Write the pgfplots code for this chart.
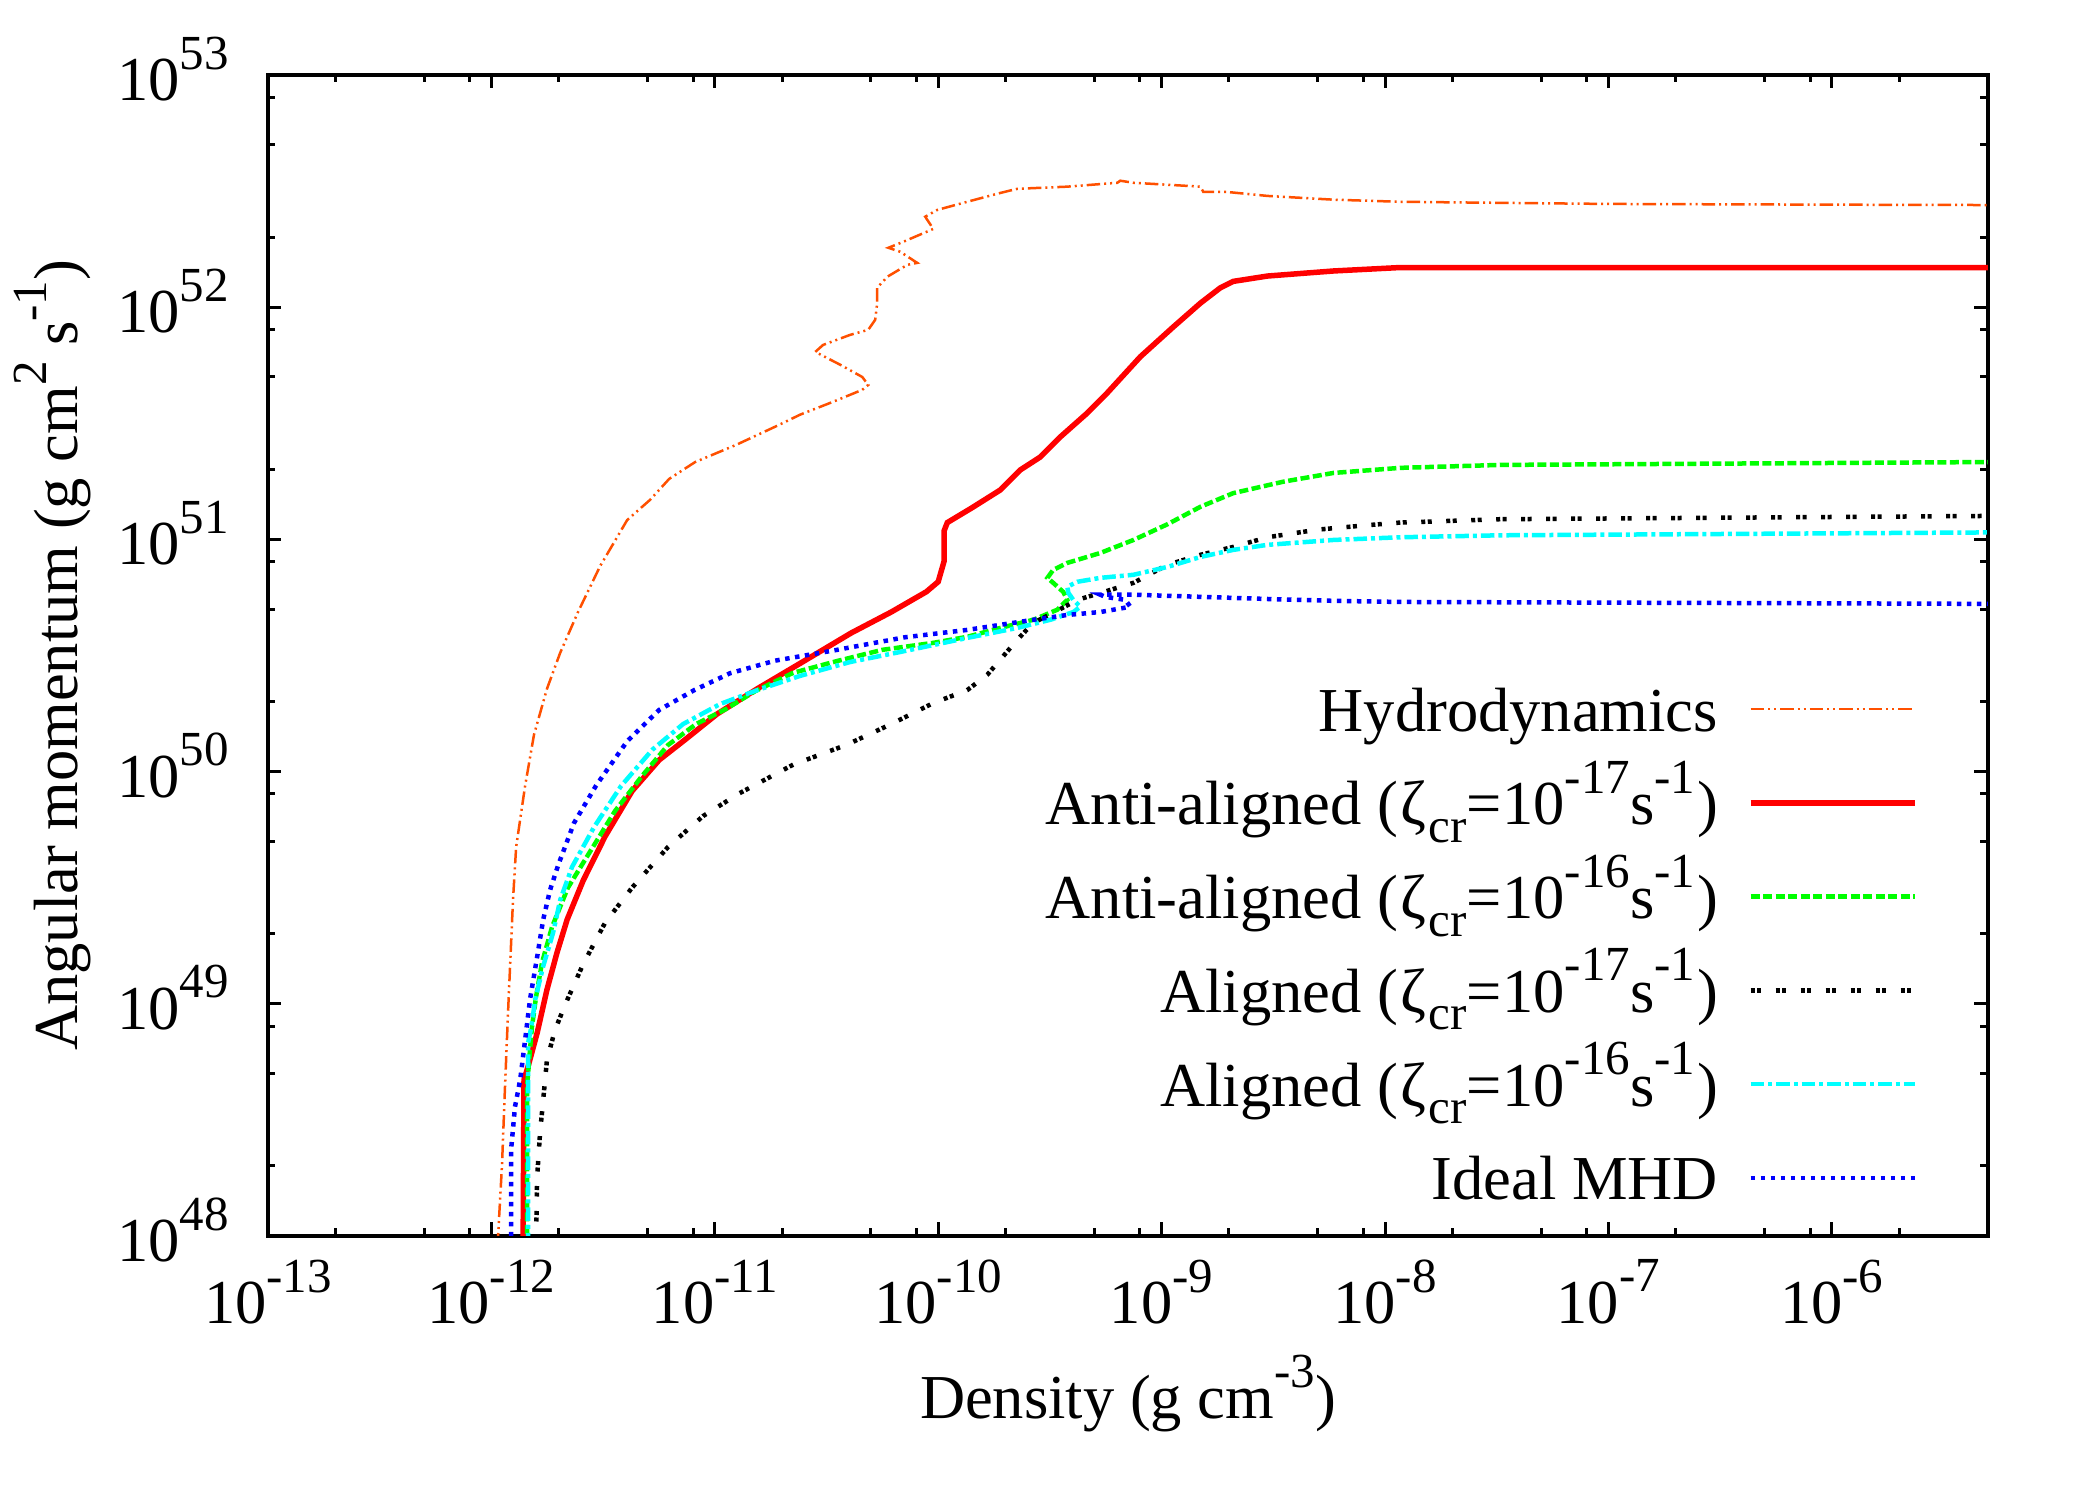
\documentclass[border=0pt]{standalone}
\usepackage{fontspec}
\setmainfont{Liberation Serif}
\usepackage{pgfplots}
\pgfplotsset{compat=1.18}

\newcommand{\fsz}{\fontsize{12.5}{15}\selectfont}
\newcommand{\sps}[1]{\raisebox{6.3pt}{\fontsize{9.8}{10}\selectfont #1}}
\newcommand{\sbs}[1]{\raisebox{-3.5pt}{\fontsize{9.8}{10}\selectfont #1}}
\newcommand{\pw}[1]{\mbox{10\sps{#1}}}
\newcommand{\zcr}[1]{(\kern0.4ptζ\kern0.6pt\sbs{cr}=10\sps{#1}s\sps{-1}\kern0.4pt)}

\definecolor{hydro}{RGB}{255,80,0}
\definecolor{cgreen}{RGB}{0,255,0}
\definecolor{ccyan}{RGB}{0,255,255}
\definecolor{cblue}{RGB}{0,0,255}

\begin{document}
\begin{tikzpicture}
\path[use as bounding box] (-53.6pt,-52.8pt) rectangle (366.4pt,247.2pt);
\begin{axis}[
  at={(0pt,0pt)}, anchor=south west,
  scale only axis, width=344pt, height=232.2pt,
  xmode=log, ymode=log,
  xmin=1e-13, xmax=5e-6, ymin=1e48, ymax=1e53,
  xtick={1e-13,1e-12,1e-11,1e-10,1e-9,1e-8,1e-7,1e-6},
  xticklabels={\pw{-13},\pw{-12},\pw{-11},\pw{-10},\pw{-9},\pw{-8},\pw{-7},\pw{-6}},
  minor xtick={2e-13,5e-13,8e-13,2e-12,5e-12,8e-12,2e-11,5e-11,8e-11,2e-10,5e-10,8e-10,
               2e-9,5e-9,8e-9,2e-8,5e-8,8e-8,2e-7,5e-7,8e-7,2e-6},
  ytick={1e48,1e49,1e50,1e51,1e52,1e53},
  yticklabels={\pw{48},\pw{49},\pw{50},\pw{51},\pw{52},\pw{53}},
  minor ytick={2e48,5e48,8e48,2e49,5e49,8e49,2e50,5e50,8e50,2e51,5e51,8e51,2e52,5e52,8e52},
  tick align=inside,
  major tick length=2.7pt, minor tick length=1.5pt,
  tick style={black, line width=0.6pt},
  axis line style={line width=0.7pt},
  tick label style={font=\fsz},
  xticklabel style={anchor=north, inner sep=0pt, yshift=-4.6pt},
  yticklabel style={anchor=east, inner sep=0pt, xshift=-7.6pt, yshift=1.2pt},
  label style={font=\fsz},
  xlabel={Density (g cm\sps{-3})},
  ylabel={Angular momentum (g cm\sps{2} s\sps{-1})},
  xlabel style={at={([yshift=-36.6pt]axis description cs:0.5,0)}, anchor=base, inner sep=0pt},
  ylabel style={at={([xshift=-38pt]axis description cs:0,0.5)}, anchor=base, inner sep=0pt},
  legend style={at={(1,0)}, anchor=south east, xshift=-13.9pt, yshift=2pt,
    draw=none, fill=none, inner sep=0pt, row sep=0pt, column sep=6.0pt, font=\fsz,
    nodes={inner sep=0pt, text height=13.75pt, text depth=5pt}},
  legend cell align=right,
  legend plot pos=right,
  legend image code/.code={\draw[#1] (0pt,0pt) -- (32.8pt,0pt);},
]

% Hydrodynamics
\addplot[hydro, line width=0.5pt, dash pattern=on 2.7pt off 0.8pt on 0.4pt off 0.8pt on 0.4pt off 0.8pt]
coordinates {
(1.072e-12,9e47) (1.072e-12,1.00e48) (1.117e-12,2.06e48) (1.151e-12,4.39e48) (1.189e-12,9.40e48)
(1.250e-12,2.80e49) (1.291e-12,4.73e49) (1.416e-12,8.67e49) (1.552e-12,1.44e50) (1.774e-12,2.27e50)
(2.032e-12,3.24e50) (2.443e-12,4.86e50) (3.069e-12,7.67e50) (4.055e-12,1.21e51) (5.140e-12,1.48e51)
(6.252e-12,1.82e51) (8.166e-12,2.15e51) (1.247e-11,2.55e51) (1.901e-11,3.08e51) (2.410e-11,3.44e51)
(3.388e-11,3.91e51) (4.571e-11,4.40e51) (4.864e-11,4.62e51) (4.571e-11,5.00e51) (3.648e-11,5.64e51)
(2.818e-11,6.41e51) (3.055e-11,6.87e51) (4.036e-11,7.59e51) (4.864e-11,7.98e51) (5.224e-11,8.81e51)
(5.333e-11,1.04e52) (5.333e-11,1.21e52) (5.916e-11,1.35e52) (7.278e-11,1.52e52) (8.054e-11,1.55e52)
(6.761e-11,1.73e52) (5.984e-11,1.80e52) (6.982e-11,1.91e52) (9.506e-11,2.17e52) (8.750e-11,2.45e52)
(9.908e-11,2.62e52) (1.349e-10,2.84e52) (1.897e-10,3.10e52) (2.259e-10,3.23e52) (3.784e-10,3.30e52)
(6.339e-10,3.43e52) (6.531e-10,3.50e52) (7.482e-10,3.43e52) (1.493e-9,3.30e52) (1.538e-9,3.13e52)
(1.972e-9,3.13e52) (2.979e-9,3.01e52) (5.875e-9,2.90e52) (1.172e-8,2.84e52) (3.289e-8,2.81e52)
(1e-7,2.78e52) (1e-6,2.76e52) (5.0e-6,2.75e52)
};
\addlegendentry{Hydrodynamics}

% Anti-aligned, zeta = 1e-17
\addplot[red, line width=1.1pt]
coordinates {
(1.387e-12,9e47) (1.400e-12,4.70e48) (1.459e-12,5.35e48) (1.603e-12,7.48e48) (1.774e-12,1.15e49)
(1.968e-12,1.66e49) (2.183e-12,2.30e49) (2.576e-12,3.39e49) (3.228e-12,5.25e49) (4.266e-12,8.24e49)
(5.636e-12,1.12e50) (7.362e-12,1.37e50) (1.026e-11,1.77e50) (1.549e-11,2.27e50) (2.438e-11,2.94e50)
(4.083e-11,3.95e50) (6.166e-11,4.86e50) (8.851e-11,5.94e50) (1.000e-10,6.56e50) (1.064e-10,8.07e50)
(1.064e-10,1.09e51) (1.099e-10,1.18e51) (1.406e-10,1.36e51) (1.897e-10,1.63e51) (2.333e-10,1.99e51)
(2.864e-10,2.26e51) (3.524e-10,2.76e51) (4.656e-10,3.50e51) (5.715e-10,4.27e51) (8.035e-10,6.11e51)
(1.130e-9,8.22e51) (1.493e-9,1.04e52) (1.832e-9,1.21e52) (2.094e-9,1.29e52) (2.979e-9,1.36e52)
(5.875e-9,1.43e52) (1.172e-8,1.48e52) (5.0e-6,1.48e52)
};
\addlegendentry{Anti-aligned \zcr{-17}}

% Anti-aligned, zeta = 1e-16
\addplot[cgreen, line width=0.9pt, dash pattern=on 1.8pt off 0.7pt]
coordinates {
(1.445e-12,9e47) (1.445e-12,4.39e48) (1.489e-12,6.32e48) (1.520e-12,7.94e48) (1.585e-12,1.07e49)
(1.685e-12,1.50e49) (1.869e-12,2.14e49) (2.202e-12,3.16e49) (2.849e-12,4.73e49) (3.579e-12,6.76e49)
(4.729e-12,9.57e49) (6.177e-12,1.30e50) (8.250e-12,1.60e50) (1.125e-11,1.86e50) (1.520e-11,2.22e50)
(2.244e-11,2.66e50) (3.532e-11,2.99e50) (5.623e-11,3.34e50) (9.506e-11,3.58e50) (1.349e-10,3.80e50)
(1.897e-10,4.15e50) (2.667e-10,4.50e50) (3.412e-10,4.97e50) (3.784e-10,5.48e50) (3.631e-10,5.93e50)
(3.273e-10,6.49e50) (3.083e-10,6.82e50) (3.273e-10,7.38e50) (3.784e-10,7.91e50) (5.321e-10,8.73e50)
(7.482e-10,9.93e50) (1.062e-9,1.16e51) (1.493e-9,1.38e51) (2.094e-9,1.58e51) (3.508e-9,1.77e51)
(5.875e-9,1.93e51) (1.172e-8,2.03e51) (3.289e-8,2.09e51) (5.0e-6,2.15e51)
};
\addlegendentry{Anti-aligned \zcr{-16}}

% Aligned, zeta = 1e-17
\addplot[black, line width=0.9pt, dash pattern=on 0.8pt off 0.5pt on 0.8pt off 2.9pt]
coordinates {
(1.585e-12,9e47) (1.603e-12,1.79e48) (1.652e-12,2.78e48) (1.706e-12,3.85e48) (1.774e-12,5.73e48)
(1.928e-12,7.71e48) (2.138e-12,9.89e48) (2.576e-12,1.48e49) (3.228e-12,2.23e49) (4.266e-12,3.16e49)
(6.180e-12,4.73e49) (8.872e-12,6.43e49) (1.285e-11,8.04e49) (2.244e-11,1.07e50) (3.873e-11,1.30e50)
(6.166e-11,1.60e50) (9.506e-11,1.97e50) (1.349e-10,2.24e50) (1.660e-10,2.61e50) (1.897e-10,3.03e50)
(2.259e-10,3.69e50) (2.667e-10,4.37e50) (3.273e-10,4.82e50) (4.198e-10,5.48e50) (5.321e-10,5.87e50)
(7.482e-10,6.49e50) (1.062e-9,7.76e50) (1.493e-9,8.57e50) (2.094e-9,9.27e50) (2.979e-9,1.02e51)
(4.989e-9,1.10e51) (8.356e-9,1.15e51) (1.172e-8,1.18e51) (3.289e-8,1.22e51) (5.0e-6,1.26e51)
};
\addlegendentry{Aligned \zcr{-17}}

% Aligned, zeta = 1e-16
\addplot[ccyan, line width=0.9pt, dash pattern=on 2.7pt off 0.8pt on 0.8pt off 0.8pt]
coordinates {
(1.460e-12,9e47) (1.460e-12,6.78e48) (1.510e-12,7.94e48) (1.571e-12,1.04e49) (1.703e-12,1.44e49)
(1.889e-12,2.02e49) (2.034e-12,2.80e49) (2.297e-12,3.88e49) (2.885e-12,5.77e49) (3.812e-12,8.67e49)
(5.251e-12,1.24e50) (7.215e-12,1.60e50) (1.055e-11,1.95e50) (1.549e-11,2.24e50) (2.410e-11,2.58e50)
(4.036e-11,2.96e50) (6.761e-11,3.27e50) (1.349e-10,3.76e50) (2.259e-10,4.15e50) (3.177e-10,4.50e50)
(4.027e-10,4.86e50) (4.325e-10,5.12e50) (4.027e-10,5.48e50) (3.828e-10,5.87e50) (3.784e-10,6.24e50)
(4.198e-10,6.56e50) (5.321e-10,6.82e50) (7.482e-10,7.03e50) (1.062e-9,7.60e50) (1.493e-9,8.39e50)
(2.094e-9,9.00e50) (2.979e-9,9.46e50) (5.875e-9,9.93e50) (1.172e-8,1.02e51) (3.289e-8,1.04e51)
(5.0e-6,1.07e51)
};
\addlegendentry{Aligned \zcr{-16}}

% Ideal MHD
\addplot[cblue, line width=0.9pt, dash pattern=on 0.9pt off 1.1pt]
coordinates {
(1.225e-12,9e47) (1.225e-12,2.34e48) (1.276e-12,3.60e48) (1.346e-12,4.70e48) (1.416e-12,6.98e48)
(1.489e-12,1.04e49) (1.603e-12,1.59e49) (1.706e-12,2.30e49) (1.832e-12,3.09e49) (1.991e-12,3.95e49)
(2.344e-12,6.00e49) (2.944e-12,8.70e49) (4.055e-12,1.35e50) (5.636e-12,1.84e50) (8.091e-12,2.24e50)
(1.172e-11,2.65e50) (1.862e-11,3.00e50) (3.532e-11,3.34e50) (7.047e-11,3.78e50) (1.349e-10,4.07e50)
(2.667e-10,4.50e50) (3.784e-10,4.72e50) (5.321e-10,4.86e50) (7.244e-10,5.12e50) (6.887e-10,5.48e50)
(5.598e-10,5.65e50) (5.321e-10,5.77e50) (7.482e-10,5.77e50) (1.493e-9,5.65e50) (2.979e-9,5.53e50)
(5.875e-9,5.43e50) (1.172e-8,5.37e50) (5.0e-6,5.27e50)
};
\addlegendentry{Ideal MHD}

\end{axis}
\end{tikzpicture}
\end{document}
